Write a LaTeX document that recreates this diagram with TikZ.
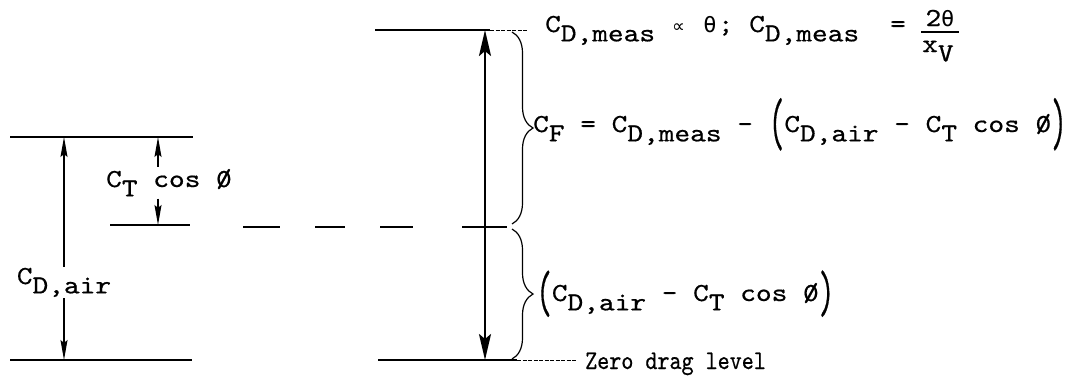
\documentclass[tikz,border=0pt]{standalone}
\usepackage{fontspec}
\usepackage{graphicx}
\usetikzlibrary{arrows.meta,decorations.pathreplacing}
\newfontfamily\tw{lmmono10-regular}[Extension=.otf,FakeStretch=1.15,FakeBold=0.6]
\newfontfamily\twz{lmmono10-regular}[Extension=.otf,FakeStretch=0.85,FakeBold=0.6]
\newfontfamily\dvs{DejaVu Sans}
\newfontfamily\dvm{DejaVu Sans Mono}
\newcommand\lowr[1]{\raisebox{-0.36em}{#1}}
\newcommand\phislash{\makebox[0pt][l]{0}/}
\newcommand\fsz{\fontsize{26}{30}\selectfont}
\newcommand\cellbox[1]{\makebox[15.7pt]{#1}}
\newcommand\bparen[2]{\raisebox{#2}{\scalebox{1}[#1]{(}}}
\newcommand\eparen[2]{\raisebox{#2}{\scalebox{1}[#1]{)}}}
\begin{document}
\begin{tikzpicture}[x=1pt,y=-1pt,
  txt/.style={inner sep=0pt,font=\tw\fsz},
  ln/.style={line width=1.3pt},
  extln/.style={line width=0.8pt,dash pattern=on 4pt off 1.5pt},
  thinarr/.style={line width=1.3pt,-{Stealth[length=20pt,width=7pt,inset=3pt]}},
  bigarr/.style={line width=2.4pt,{Stealth[length=26pt,width=12pt,inset=5pt]}-{Stealth[length=26pt,width=12pt,inset=5pt]}},
  brc/.style={line width=1.2pt,decorate,decoration={brace,amplitude=21pt,aspect=0.5}}]
\useasboundingbox (0,0) rectangle (1081,375);
% ---------- left part ----------
\coordinate (Ltop) at (64,137);
\coordinate (Lbot) at (64,360);
\coordinate (Ctop) at (158,137);
\coordinate (Cmid) at (158,225);
\draw[ln] (10,137) -- (193,137);
\draw[ln] (10,360) -- (192,360);
\draw[ln] (110,225) -- (190,225);
\node[txt,anchor=base,inner ysep=1pt] (cdair) at (64,284) {C\lowr{D,air}};
\draw[thinarr] (cdair.north) -- (Ltop);
\draw[thinarr] (cdair.south) -- (Lbot);
\node[txt,anchor=base west,inner ysep=2pt] (ctcos) at (106,187) {C\lowr{T} cos \phislash};
\draw[thinarr] (ctcos.north -| Ctop) -- (Ctop);
\draw[thinarr] (ctcos.south -| Ctop) -- (Cmid);
% ---------- dashed level ----------
\draw[ln] (243,227) -- (280,227);
\draw[ln] (315,227) -- (345,227);
\draw[ln] (380,227) -- (413,227);
\draw[ln] (462,227) -- (507,227);
% ---------- right part ----------
\coordinate (Rtop) at (485,30);
\coordinate (Rbot) at (485,360);
\draw[ln] (375,30) -- (490,30);
\draw[extln] (490,30) -- (527,30);
\draw[ln] (378,360) -- (517,360);
\draw[extln] (517,360) -- (577,360);
\draw[bigarr] (Rbot) -- (Rtop);
\draw[brc] (512,32) -- (512,224);
\draw[brc] (512,229) -- (512,359);
% ---------- formulas ----------
\node[txt,anchor=base west] (l1) at (545,32) {C\lowr{D,meas} \cellbox{\dvs\fontsize{18}{18}\selectfont ∝} \cellbox{\dvm\fontsize{22}{22}\selectfont θ}; C\lowr{D,meas}};
\node[txt,anchor=base] (eq1) at (898,32) {=};
\node[txt,anchor=base] (num) at (940,26) {2{\dvm\fontsize{22}{22}\selectfont θ}};
\draw[line width=1.3pt] (921,32) -- (959,32);
\node[txt,anchor=base west] (den) at (922,52) {x\lowr{V}};
\node[txt,anchor=base west] (l2) at (533,132) {C\lowr{F} = C\lowr{D,meas} - \bparen{2.6}{-13pt}C\lowr{D,air} - C\lowr{T} cos \phislash\eparen{2.6}{-13pt}};
\node[txt,anchor=base west] (l3) at (536,301) {\bparen{2.3}{-11pt}C\lowr{D,air} - C\lowr{T} cos \phislash\eparen{2.3}{-11pt}};
\node[txt,anchor=base west,font=\twz\fontsize{27}{30}\selectfont] (zdl) at (585,369) {Zero drag level};
\end{tikzpicture}
\end{document}
